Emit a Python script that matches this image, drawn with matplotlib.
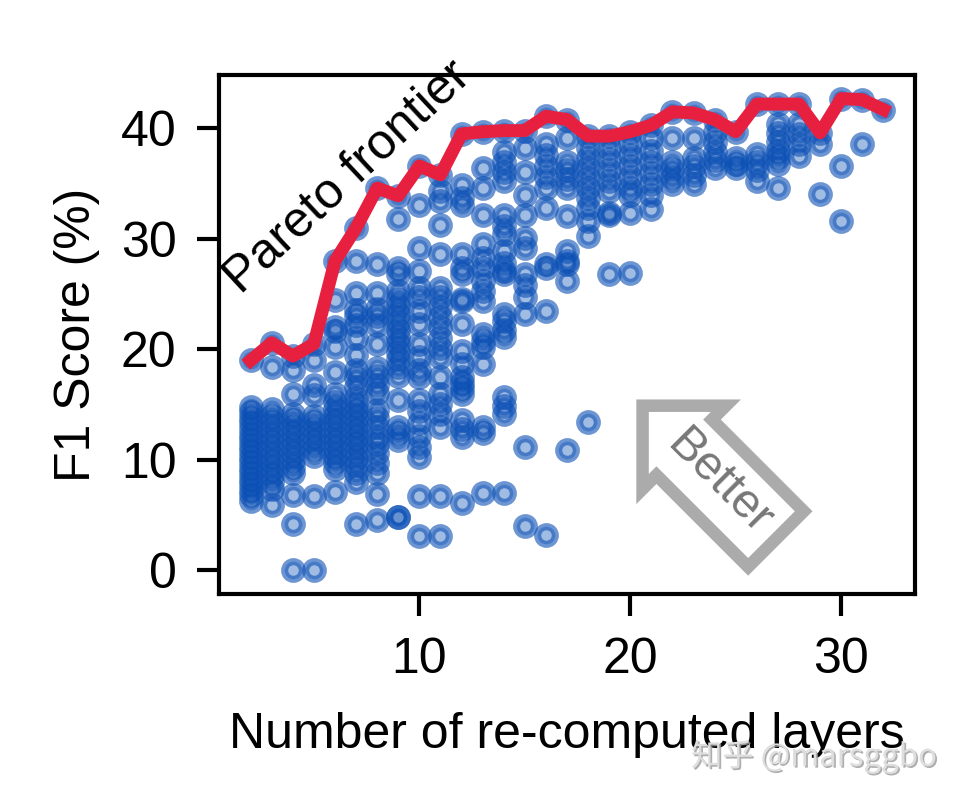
import numpy as np
import matplotlib
matplotlib.use("Agg")
import matplotlib.pyplot as plt
import matplotlib.patheffects as pe

plt.rcParams['font.family'] = ['Liberation Sans', 'DejaVu Sans']

# F1 score (%) of every sampled configuration, grouped by number of re-computed layers
f1_at_2 = [19.0, 14.8, 14.3, 13.8, 13.3, 12.8, 12.3, 11.8, 11.3, 10.8, 10.3, 9.8, 9.3, 8.8, 8.3, 7.8, 7.3, 6.8, 6.3]
f1_at_3 = [20.6, 18.4, 14.6, 14.0, 13.4, 12.8, 12.2, 11.6, 11.0, 10.4, 9.8, 9.2, 8.6, 8.0, 7.4, 5.9]
f1_at_4 = [19.4, 18.1, 16.0, 14.2, 13.6, 13.0, 12.4, 11.8, 11.2, 10.6, 10.0, 9.4, 8.8, 6.8, 4.2, 0.0]
f1_at_5 = [20.5, 19.0, 16.8, 15.9, 14.0, 13.4, 12.8, 12.2, 11.6, 11.0, 10.4, 6.7, 0.0]
f1_at_6 = [28.0, 24.5, 22.0, 21.7, 20.2, 18.0, 16.0, 15.2, 14.6, 14.0, 13.4, 12.8, 12.2, 11.6, 11.0, 10.4, 9.8, 9.2, 7.1]
f1_at_7 = [31.0, 28.0, 25.1, 23.6, 23.0, 22.2, 21.0, 19.5, 18.1, 17.4, 16.6, 15.6, 15.0, 14.4, 13.8, 13.2, 12.6, 12.0,
           11.4, 10.8, 10.2, 9.5, 8.8, 8.0, 4.2]
f1_at_8 = [34.6, 27.7, 25.1, 23.7, 23.0, 22.2, 20.5, 18.3, 17.6, 16.8, 16.1, 14.5, 13.8, 13.0, 12.1, 11.4, 10.6, 9.7,
           8.8, 6.9, 4.6]
f1_at_9 = [33.9, 31.8, 27.4, 26.8, 25.3, 24.6, 23.9, 23.2, 22.5, 21.8, 21.1, 20.5, 19.8, 19.1, 18.4, 17.6, 15.4, 13.0,
           12.4, 11.8, 4.8, 4.8]
f1_at_10 = [36.6, 33.1, 29.2, 27.1, 25.6, 24.7, 23.5, 22.3, 20.5, 19.3, 18.1, 17.5, 15.4, 14.4, 13.3, 12.2, 11.2, 10.3,
            6.7, 3.1]
f1_at_11 = [35.8, 34.3, 33.4, 31.3, 28.6, 25.6, 24.7, 23.8, 22.9, 22.0, 21.0, 20.1, 19.3, 17.5, 16.0, 15.1, 14.2, 13.0,
            6.7, 3.1]
f1_at_12 = [39.5, 34.9, 33.7, 33.1, 28.6, 27.4, 26.8, 24.6, 24.4, 22.3, 19.9, 18.7, 17.5, 17.0, 16.5, 16.0, 13.6, 12.8,
            12.1, 6.1]
f1_at_13 = [39.7, 36.4, 34.6, 32.2, 29.5, 28.3, 27.4, 26.2, 25.3, 24.4, 21.4, 20.8, 20.2, 18.7, 13.0, 12.4, 7.0]
f1_at_14 = [39.8, 37.9, 37.0, 36.1, 35.2, 32.2, 31.2, 30.4, 28.9, 27.8, 27.1, 26.8, 23.2, 22.6, 21.8, 21.1, 15.7, 14.9,
            14.2, 7.0]
f1_at_15 = [39.8, 38.2, 36.1, 34.0, 32.2, 30.1, 29.2, 26.8, 25.8, 24.7, 23.2, 11.2, 4.0]
f1_at_16 = [41.1, 38.6, 37.6, 36.6, 35.6, 34.6, 32.8, 27.7, 27.4, 23.5, 3.2]
f1_at_17 = [40.8, 39.1, 37.0, 36.2, 35.4, 34.6, 32.1, 28.9, 28.0, 27.7, 26.2, 10.9]
f1_at_18 = [39.3, 38.2, 37.3, 36.4, 35.5, 34.6, 33.7, 32.8, 31.6, 30.3, 13.4]
f1_at_19 = [39.3, 38.2, 37.2, 36.2, 35.2, 34.3, 32.3, 32.2, 26.8]
f1_at_20 = [39.7, 38.6, 37.6, 36.6, 35.6, 34.6, 34.0, 32.3, 26.9]
f1_at_21 = [40.3, 39.1, 38.0, 37.0, 36.0, 35.0, 34.0, 32.7]
f1_at_22 = [41.5, 39.1, 37.0, 36.3, 35.6, 35.0]
f1_at_23 = [41.4, 39.1, 37.3, 36.6, 35.8, 35.0]
f1_at_24 = [40.8, 39.7, 38.8, 37.9, 37.1, 36.4]
f1_at_25 = [39.7, 37.3, 36.8, 36.4]
f1_at_26 = [42.2, 37.7, 37.0, 36.2, 35.2]
f1_at_27 = [42.2, 40.4, 39.6, 38.8, 38.0, 37.4, 36.8, 34.6]
f1_at_28 = [42.2, 40.4, 39.5, 38.6, 37.5]
f1_at_29 = [39.6, 38.6, 34.1]
f1_at_30 = [42.7, 36.6, 31.6]
f1_at_31 = [42.6, 38.6]
f1_at_32 = [41.7]

columns = [f1_at_2, f1_at_3, f1_at_4, f1_at_5, f1_at_6, f1_at_7, f1_at_8, f1_at_9, f1_at_10, f1_at_11,
           f1_at_12, f1_at_13, f1_at_14, f1_at_15, f1_at_16, f1_at_17, f1_at_18, f1_at_19, f1_at_20, f1_at_21,
           f1_at_22, f1_at_23, f1_at_24, f1_at_25, f1_at_26, f1_at_27, f1_at_28, f1_at_29, f1_at_30, f1_at_31,
           f1_at_32]
layers = list(range(2, 33))

xs = []
ys = []
for n, col in zip(layers, columns):
    xs += [n] * len(col)
    ys += col
# best score for each number of layers
frontier = [max(col) for col in columns]

blue = (0.04, 0.31, 0.71)

fig = plt.figure(figsize=(3.21, 2.67), dpi=300)
ax = fig.add_axes([0.2274, 0.2584, 0.7228, 0.648])

ax.scatter(xs, ys, s=18, facecolors=[blue + (0.38,)], edgecolors=[blue + (0.6,)],
           linewidths=1.7, zorder=2)
ax.plot(layers, frontier, color='#E8203F', lw=3.1, zorder=3)

ax.text(6.6, 35.6, 'Pareto frontier', fontsize=12, rotation=43, ha='center', va='center',
        rotation_mode='anchor', zorder=4)

ax.text(24.2, 8.0, 'Better', fontsize=11.5, rotation=-45, ha='center', va='center',
        color='#777777', rotation_mode='anchor',
        bbox=dict(boxstyle='larrow,pad=0.35', fc='white', ec='black', alpha=0.33, lw=3.0))

ax.set_xticks([10, 20, 30])
ax.set_yticks([0, 10, 20, 30, 40])
ax.tick_params(labelsize=12, length=5.2, width=1.0, pad=5)
for sp in ax.spines.values():
    sp.set_linewidth(1.0)
ax.set_xlabel('Number of re-computed layers', fontsize=12, labelpad=7)
ax.set_ylabel('F1 Score (%)', fontsize=12, labelpad=5)

fig.text(0.973, 0.035, '知乎 @marsggbo', fontsize=7.5, color='#dedede', ha='right', va='bottom',
         family=['Noto Sans CJK SC', 'DejaVu Sans'],
         path_effects=[pe.withSimplePatchShadow(offset=(0.4, -0.4), shadow_rgbFace='#9a9a9a', alpha=0.8)])

fig.savefig('out.png', dpi=300)
